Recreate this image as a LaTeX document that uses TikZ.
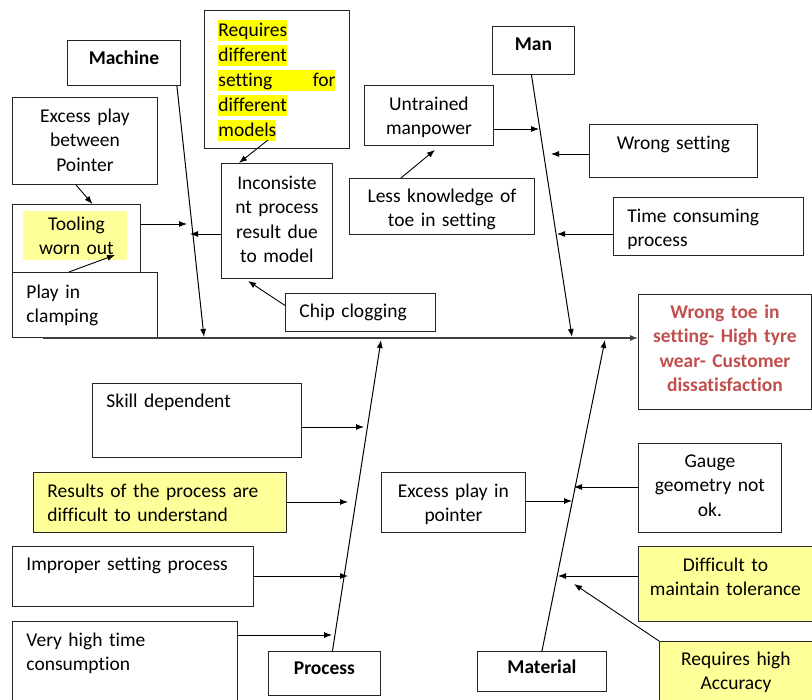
\documentclass[tikz,border=0pt]{standalone}
\usepackage{fontspec}
\setmainfont{Carlito}[Ligatures=NoCommon]
\usetikzlibrary{arrows.meta}
\definecolor{amarillo}{RGB}{255,255,153}
\definecolor{resalte}{RGB}{255,255,0}
\definecolor{rojo}{RGB}{192,80,77}
\setlength{\fboxsep}{0pt}
\tikzset{
    caja/.style={draw=black!85, line width=0.9pt, fill=white, anchor=north west,
        inner ysep=0pt, inner xsep=4pt, align=center,
        font=\fontsize{19.5}{24.5}\selectfont},
    izq/.style={align=left, inner xsep=14pt},
    titulo/.style={caja, font=\fontsize{19.5}{24.5}\selectfont\bfseries},
    amarilla/.style={fill=amarillo},
    espina/.style={->, line width=1pt},
    rama/.style={->, line width=0.9pt},
    >={Latex[length=8pt,width=6pt]}
}
\begin{document}
\begin{tikzpicture}[x=1pt, y=-1pt]
        \useasboundingbox[fill=white] (0,0) rectangle (812,700);

        % ~~~~ Fondo amarillo de la herramienta ~~~~%
        \fill[amarillo] (23,211) rectangle (127,260);

        % ~~~~ Causas de Machine ~~~~%
        \node[titulo, text width=105pt, text height=24pt, text depth=21pt] (maq) at (67,40) {Machine};
        \node[caja, text width=137pt, text height=25pt, text depth=62pt] (juego) at (12,97) {Excess play\\between\\Pointer};
        \node[caja, izq, font=\fontsize{19.5}{25}\selectfont,
            text width=117pt, text height=26pt, text depth=112pt] (req) at (204,10)
            {\colorbox{resalte}{\rule[-5pt]{0pt}{21pt}Requires}\\
             \colorbox{resalte}{\rule[-5pt]{0pt}{21pt}different}\\
             \colorbox{resalte}{\rule[-5pt]{0pt}{21pt}\hbox to 117pt{setting\hfill for}}\\
             \colorbox{resalte}{\rule[-5pt]{0pt}{21pt}different}\\
             \colorbox{resalte}{\rule[-5pt]{0pt}{21pt}models}};
        \node[caja, fill=none, text width=120pt, text height=26pt, text depth=42pt] (herr) at (12,204) {Tooling\\worn out};
        \node[caja, izq, text width=117pt, text height=26pt, text depth=39pt] (sujec) at (12,272) {Play in\\clamping};
        \node[caja, text width=103pt, text height=26pt, text depth=89pt] (incon) at (221,163) {Inconsiste\\nt process\\result due\\to model};
        \node[caja, izq, text width=122pt, text height=24pt, text depth=14pt] (chip) at (285,293) {Chip clogging};

        % ~~~~ Causas de Man ~~~~%
        \node[titulo, text width=74pt, text height=24pt, text depth=24pt] (man) at (492,26) {Man};
        \node[caja, text width=121pt, text height=25pt, text depth=35pt] (untr) at (364,85) {Untrained\\manpower};
        \node[caja, text width=160pt, text height=25pt, text depth=28pt] (wrong) at (589,124) {Wrong setting};
        \node[caja, text width=177pt, text height=24pt, text depth=32pt] (less) at (349,178) {Less knowledge of\\toe in setting};
        \node[caja, izq, text width=162pt, text height=25pt, text depth=33pt] (time) at (613,197) {Time consuming\\process};

        % ~~~~ Efecto ~~~~%
        \node[caja, text=rojo, font=\fontsize{19.5}{24.5}\selectfont\bfseries,
            text width=165pt, text height=24pt, text depth=91pt] (efecto) at (638,294)
            {Wrong toe in\\setting- High tyre\\wear- Customer\\dissatisfaction};

        % ~~~~ Causas de Process ~~~~%
        \node[caja, izq, text width=181pt, text height=24pt, text depth=50pt] (skill) at (92,383) {Skill dependent};
        \node[caja, izq, amarilla, text width=225pt, text height=25pt, text depth=35pt] (result) at (33,472) {Results of the process are\\difficult to understand};
        \node[caja, izq, text width=213pt, text height=24pt, text depth=36pt] (improp) at (12,546) {Improper setting process};
        \node[caja, izq, text width=197pt, text height=25pt, text depth=55pt] (alto) at (12,621) {Very high time\\consumption};
        \node[titulo, text width=104pt, text height=23pt, text depth=21pt] (proc) at (268,651) {Process};

        % ~~~~ Causas de Material ~~~~%
        \node[caja, text width=136pt, text height=25pt, text depth=35pt] (punt) at (381,472) {Excess play in\\pointer};
        \node[caja, text width=135pt, text height=24pt, text depth=65pt] (gauge) at (638,443) {Gauge\\geometry not\\ok.};
        \node[caja, amarilla, text width=166pt, text height=25pt, text depth=50pt] (dific) at (638,546) {Difficult to\\maintain tolerance};
        \node[caja, amarilla, text width=145pt, text height=24pt, text depth=36pt] (acc) at (659,641) {Requires high\\Accuracy};
        \node[titulo, text width=121pt, text height=22pt, text depth=18pt] (mat) at (477,651) {Material};

        % ~~~~ Espina principal y espinas ~~~~%
        \coordinate (ini) at (43,338);
        \coordinate (pmaq) at (204,337);
        \coordinate (pman) at (572,337);
        \coordinate (pproc) at (381,340);
        \coordinate (pmat) at (605,340);
        \draw[->, line width=1.2pt, black!75] (ini) -- (ini -| efecto.west);
        \draw[espina] ([xshift=-4pt]maq.south east) -- (pmaq);
        \draw[espina] ([xshift=-2pt]man.south) -- (pman);
        \draw[espina] ([xshift=8pt]proc.north) -- (pproc);
        \draw[espina] (mat.north) -- (pmat);

        % ~~~~ Flechas de Machine ~~~~%
        \coordinate (m1) at (187,224);
        \coordinate (m2) at (190,234);
        \coordinate (h1) at (115,255);
        \coordinate (r1) at (268,140);
        \coordinate (c2) at (248,281);
        \draw[rama] (herr.east |- m1) -- (m1);
        \draw[rama] (incon.west |- m2) -- (m2);
        \draw[rama] ([xshift=-9pt]juego.south) -- ([xshift=16pt]herr.north);
        \draw[rama] ([xshift=-16pt]sujec.north) -- (h1);
        \draw[rama] (r1) -- ([xshift=-38pt]incon.north);
        \draw[rama] ([yshift=7pt]chip.west) -- (c2);

        % ~~~~ Flechas de Man ~~~~%
        \coordinate (h2) at (539,129);
        \coordinate (h3) at (551,154);
        \coordinate (h4) at (557,234);
        \draw[rama] (untr.east |- h2) -- (h2);
        \draw[rama] (wrong.west |- h3) -- (h3);
        \draw[rama] (time.west |- h4) -- (h4);
        \draw[rama] ([xshift=-41pt]less.north) -- ([xshift=6pt, yshift=-4pt]untr.south);

        % ~~~~ Flechas de Process ~~~~%
        \coordinate (p1) at (364,427);
        \coordinate (p2) at (348,502);
        \coordinate (p3) at (348,576);
        \coordinate (p4) at (332,635);
        \draw[rama] (skill.east |- p1) -- (p1);
        \draw[rama] (result.east |- p2) -- (p2);
        \draw[rama] (improp.east |- p3) -- (p3);
        \draw[rama] (alto.east |- p4) -- (p4);

        % ~~~~ Flechas de Material ~~~~%
        \coordinate (q1) at (572,501);
        \coordinate (q2) at (574,487);
        \coordinate (q3) at (558,576);
        \coordinate (q4) at (574,584);
        \draw[rama] (punt.east |- q1) -- (q1);
        \draw[rama] (gauge.west |- q2) -- (q2);
        \draw[rama] (dific.west |- q3) -- (q3);
        \draw[rama] (acc.north west) -- (q4);
    \end{tikzpicture}
\end{document}
